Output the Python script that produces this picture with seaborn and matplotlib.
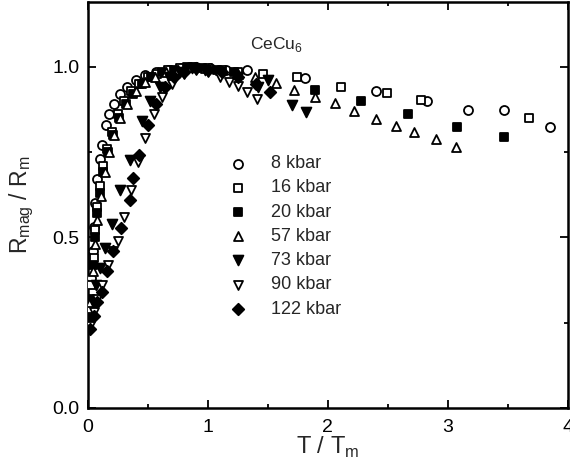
import numpy as np
import pandas as pd
import matplotlib
matplotlib.use("Agg")
import matplotlib.pyplot as plt
import seaborn as sns
from matplotlib.ticker import MultipleLocator

# ---- data ----
x_8 = [0.02,0.03,0.04,0.05,0.06,0.08,0.10,0.12,0.15,0.18,0.22,0.27,0.33,0.40,0.48,0.57,0.67,0.78,0.90,1.02,1.15,1.33,1.81,2.40,2.83,3.17,3.47,3.85]
y_8 = [0.30,0.38,0.46,0.53,0.60,0.67,0.73,0.77,0.83,0.86,0.89,0.92,0.94,0.96,0.975,0.985,0.99,0.995,1.0,0.995,0.99,0.99,0.968,0.93,0.90,0.874,0.874,0.824]

x_16 = [0.02,0.03,0.05,0.06,0.08,0.10,0.13,0.16,0.20,0.25,0.30,0.36,0.43,0.50,0.58,0.67,0.77,0.88,1.0,1.12,1.25,1.46,1.74,2.11,2.49,2.78,3.68]
y_16 = [0.29,0.36,0.44,0.52,0.59,0.65,0.71,0.76,0.81,0.86,0.90,0.93,0.95,0.97,0.98,0.99,0.995,1.0,0.995,0.99,0.985,0.98,0.971,0.941,0.924,0.903,0.85]

x_20 = [0.02,0.04,0.06,0.08,0.10,0.13,0.17,0.21,0.26,0.32,0.38,0.45,0.53,0.62,0.72,0.83,0.95,1.08,1.22,1.89,2.28,2.67,3.08,3.47]
y_20 = [0.32,0.42,0.50,0.57,0.63,0.69,0.75,0.80,0.85,0.89,0.92,0.95,0.97,0.985,0.99,1.0,0.995,0.99,0.985,0.933,0.90,0.862,0.824,0.795]

x_57 = [0.02,0.04,0.06,0.08,0.11,0.14,0.18,0.22,0.27,0.33,0.40,0.48,0.56,0.65,0.75,0.86,0.98,1.10,1.25,1.39,1.57,1.72,1.89,2.06,2.22,2.40,2.57,2.72,2.90,3.07]
y_57 = [0.31,0.40,0.48,0.55,0.62,0.69,0.75,0.80,0.85,0.89,0.93,0.955,0.97,0.985,0.99,1.0,0.995,0.99,0.98,0.97,0.953,0.933,0.912,0.894,0.871,0.848,0.827,0.809,0.789,0.765]

x_73 = [0.02,0.04,0.07,0.10,0.14,0.20,0.27,0.35,0.45,0.52,0.60,0.68,0.77,0.87,0.98,1.10,1.25,1.42,1.50,1.70,1.82]
y_73 = [0.26,0.31,0.36,0.41,0.47,0.54,0.64,0.727,0.84,0.90,0.94,0.97,0.985,0.995,0.99,0.985,0.97,0.94,0.96,0.889,0.868]

x_90 = [0.02,0.05,0.08,0.12,0.17,0.21,0.25,0.30,0.36,0.42,0.48,0.55,0.62,0.70,0.80,0.90,1.00,1.10,1.18,1.25,1.33,1.41]
y_90 = [0.24,0.28,0.32,0.36,0.42,0.46,0.49,0.56,0.64,0.72,0.79,0.86,0.91,0.95,0.98,0.99,0.985,0.97,0.956,0.944,0.927,0.906]

x_122 = [0.02,0.05,0.08,0.12,0.16,0.21,0.28,0.35,0.38,0.43,0.50,0.57,0.64,0.72,0.80,0.90,1.00,1.12,1.25,1.40,1.52]
y_122 = [0.23,0.27,0.31,0.34,0.40,0.46,0.528,0.61,0.675,0.742,0.83,0.89,0.94,0.97,0.985,0.995,0.99,0.985,0.97,0.95,0.927]

labels = ["8 kbar", "16 kbar", "20 kbar", "57 kbar", "73 kbar", "90 kbar", "122 kbar"]
xs = [x_8, x_16, x_20, x_57, x_73, x_90, x_122]
ys = [y_8, y_16, y_20, y_57, y_73, y_90, y_122]

# ---- styles ----
markers = ["o", "s", "s", "^", "v", "v", "D"]
filled = [False, False, True, False, True, False, True]
sizes = [42, 36, 36, 42, 50, 42, 34]

sns.set_style("ticks")
plt.rcParams['font.family'] = ['Liberation Sans', 'DejaVu Sans']

fig = plt.figure(figsize=(5.7, 4.62), dpi=100)
ax = fig.add_axes([0.154, 0.117, 0.842, 0.879])

for xv, yv, lab, m, f, s in zip(xs, ys, labels, markers, filled, sizes):
    df = pd.DataFrame({"x": xv, "y": yv})
    sns.scatterplot(data=df, x="x", y="y", marker=m, s=s,
                    facecolor=("black" if f else "white"), edgecolor="black",
                    linewidth=1.3, ax=ax, label=lab, zorder=3)

ax.set_xlim(0, 4)
ax.set_ylim(0, 1.19)
ax.xaxis.set_major_locator(MultipleLocator(1))
ax.xaxis.set_minor_locator(MultipleLocator(0.5))
ax.yaxis.set_major_locator(MultipleLocator(0.5))
ax.yaxis.set_minor_locator(MultipleLocator(0.25))
ax.set_xticks([0, 1, 2, 3, 4])
ax.set_xticklabels(["0", "1", "2", "3", "4"])
ax.set_yticks([0.0, 0.5, 1.0])
ax.set_yticklabels(["0.0", "0.5", "1.0"])
ax.tick_params(which="both", direction="in", top=True, right=True,
               labelsize=14, width=1.3, colors="black")
ax.tick_params(which="major", length=6)
ax.tick_params(axis="x", which="major", pad=8)
ax.tick_params(axis="y", which="major", pad=6)
ax.tick_params(which="minor", length=3)
for sp in ax.spines.values():
    sp.set_linewidth(1.8)
    sp.set_color("black")

ax.set_xlabel("T / T$_\\mathregular{m}$", fontsize=17, labelpad=-1)
ax.set_ylabel("R$_\\mathregular{mag}$ / R$_\\mathregular{m}$", fontsize=16.5, labelpad=12)

ax.text(1.35, 1.065, "CeCu$_\\mathregular{6}$", fontsize=12.5, ha="left", va="center")

leg = ax.legend(loc="upper left", bbox_to_anchor=(0.28, 0.64), frameon=False,
                fontsize=13, handletextpad=1.3, labelspacing=0.4,
                borderaxespad=0, handlelength=1.0)

fig.savefig("out.png", dpi=100)
